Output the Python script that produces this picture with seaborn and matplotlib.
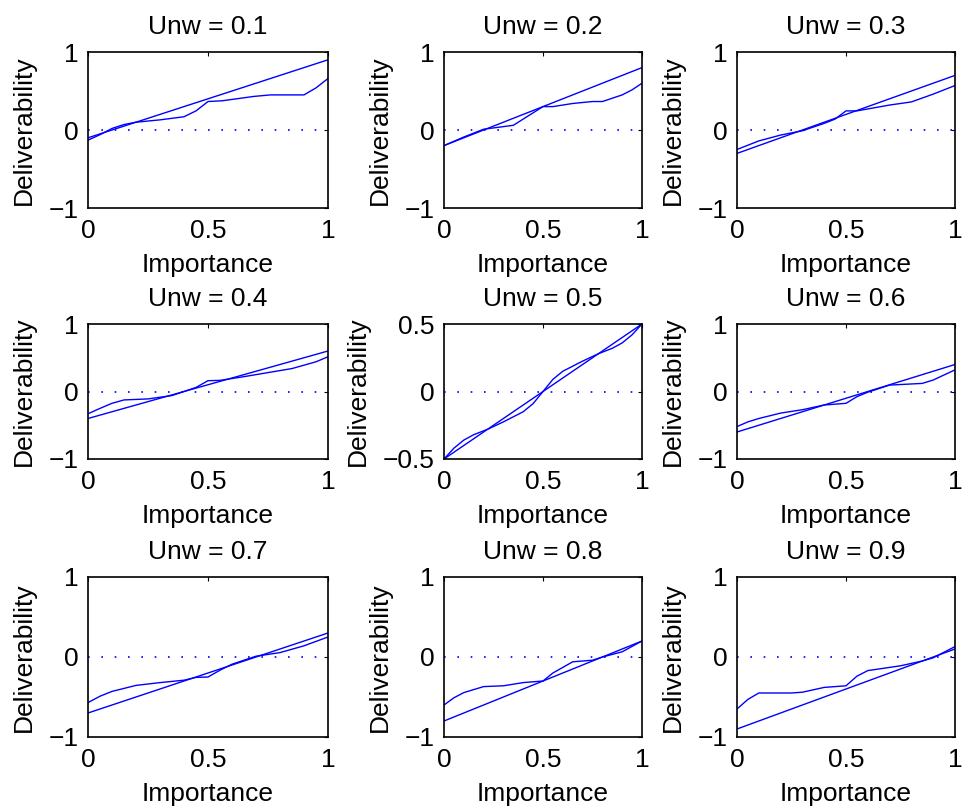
import numpy as np
import pandas as pd
import matplotlib
matplotlib.use("Agg")
import matplotlib.pyplot as plt
import seaborn as sns

sns.set_style("white")
plt.rcParams['font.family'] = ['Liberation Sans', 'DejaVu Sans']
plt.rcParams['text.color'] = 'black'
plt.rcParams['axes.labelcolor'] = 'black'
plt.rcParams['xtick.color'] = 'black'
plt.rcParams['ytick.color'] = 'black'

unw = [0.1, 0.2, 0.3, 0.4, 0.5, 0.6, 0.7, 0.8, 0.9]

curve_x = [
    [0, 0.05, 0.1, 0.15, 0.2, 0.3, 0.4, 0.45, 0.5, 0.56, 0.69, 0.76, 0.9, 0.95, 1.0],
    [0, 0.1, 0.2, 0.35, 0.5, 0.55, 0.65, 0.75, 0.8, 0.9, 0.95, 1.0],
    [0, 0.1, 0.2, 0.3, 0.4, 0.45, 0.5, 0.55, 0.7, 0.8, 0.9, 1.0],
    [0, 0.05, 0.1, 0.15, 0.25, 0.35, 0.4, 0.45, 0.5, 0.55, 0.65, 0.75, 0.85, 0.95, 1.0],
    [0, 0.05, 0.1, 0.15, 0.22, 0.3, 0.4, 0.45, 0.5, 0.55, 0.6, 0.7, 0.78, 0.85, 0.9, 0.95, 1.0],
    [0, 0.05, 0.1, 0.2, 0.3, 0.4, 0.5, 0.55, 0.6, 0.7, 0.85, 0.9, 1.0],
    [0, 0.05, 0.1, 0.2, 0.3, 0.4, 0.45, 0.5, 0.55, 0.6, 0.7, 0.8, 0.9, 1.0],
    [0, 0.05, 0.1, 0.2, 0.3, 0.4, 0.5, 0.55, 0.65, 0.75, 0.8, 0.9, 1.0],
    [0, 0.05, 0.1, 0.25, 0.3, 0.4, 0.45, 0.5, 0.55, 0.6, 0.75, 0.85, 0.9, 1.0],
]
curve_y = [
    [-0.13, -0.06, 0.02, 0.07, 0.10, 0.13, 0.17, 0.245, 0.365, 0.375, 0.43, 0.45, 0.45, 0.54, 0.66],
    [-0.2, -0.09, 0.01, 0.06, 0.30, 0.30, 0.34, 0.365, 0.365, 0.45, 0.515, 0.60],
    [-0.25, -0.14, -0.065, -0.01, 0.085, 0.14, 0.245, 0.245, 0.32, 0.36, 0.46, 0.57],
    [-0.33, -0.25, -0.175, -0.125, -0.11, -0.06, 0.0, 0.06, 0.16, 0.165, 0.22, 0.28, 0.34, 0.44, 0.515],
    [-0.5, -0.42, -0.36, -0.32, -0.28, -0.225, -0.15, -0.09, 0.0, 0.09, 0.15, 0.225, 0.28, 0.32, 0.36, 0.42, 0.5],
    [-0.52, -0.45, -0.40, -0.32, -0.27, -0.20, -0.175, -0.077, -0.01, 0.095, 0.12, 0.17, 0.32],
    [-0.57, -0.49, -0.43, -0.355, -0.32, -0.29, -0.255, -0.25, -0.165, -0.09, 0.01, 0.055, 0.14, 0.25],
    [-0.6, -0.51, -0.445, -0.37, -0.36, -0.32, -0.30, -0.20, -0.06, -0.04, 0.0, 0.065, 0.2],
    [-0.65, -0.53, -0.45, -0.45, -0.44, -0.38, -0.37, -0.36, -0.24, -0.17, -0.11, -0.05, -0.01, 0.13],
]

xticks = [0, 0.5, 1]
xticklabels = ["0", "0.5", "1"]

fig = plt.figure(figsize=(9.64, 8.09), dpi=100)
W, H = 964, 809
cols = [(88, 328), (444, 642), (737, 955)]
rows = [(52, 208), (324, 459), (577, 737)]

fs = 19
for i, u in enumerate(unw):
    r, c = divmod(i, 3)
    l, rr = cols[c]
    t, b = rows[r]
    ax = fig.add_axes([l / W, 1 - b / H, (rr - l) / W, (b - t) / H])
    df_line = pd.DataFrame({"Importance": [0.0, 1.0], "Deliverability": [-u, 1 - u]})
    df_curve = pd.DataFrame({"Importance": curve_x[i], "Deliverability": curve_y[i]})
    sns.lineplot(data=df_line, x="Importance", y="Deliverability", ax=ax,
                 color="#0000ff", lw=1.0, sort=False)
    sns.lineplot(data=df_curve, x="Importance", y="Deliverability", ax=ax,
                 color="#0000ff", lw=1.0, sort=False)
    ax.plot([0, 1], [0, 0], linestyle=(0, (1, 7)), color="#0000ff", lw=1.2)
    ax.set_xlim(0, 1)
    if u == 0.5:
        ax.set_ylim(-0.5, 0.5)
        ax.set_yticks([-0.5, 0, 0.5])
        ax.set_yticklabels(["\u22120.5", "0", "0.5"])
    else:
        ax.set_ylim(-1, 1)
        ax.set_yticks([-1, 0, 1])
        ax.set_yticklabels(["\u22121", "0", "1"])
    ax.set_xticks(xticks)
    ax.set_xticklabels(xticklabels)
    ax.tick_params(direction="in", length=3, width=0.8, labelsize=fs,
                   top=True, right=True, colors="black")
    ax.tick_params(axis="x", pad=8)
    ax.tick_params(axis="y", pad=7)
    for sp in ax.spines.values():
        sp.set_visible(True)
        sp.set_color("black")
        sp.set_linewidth(1.2)
    ax.set_title(f"Unw = {u}", fontsize=fs, pad=13)
    ax.set_xlabel("Importance", fontsize=fs, labelpad=7)
    ax.set_ylabel("Deliverability", fontsize=fs, labelpad=9)

fig.savefig("out.png", dpi=100, facecolor="white")
